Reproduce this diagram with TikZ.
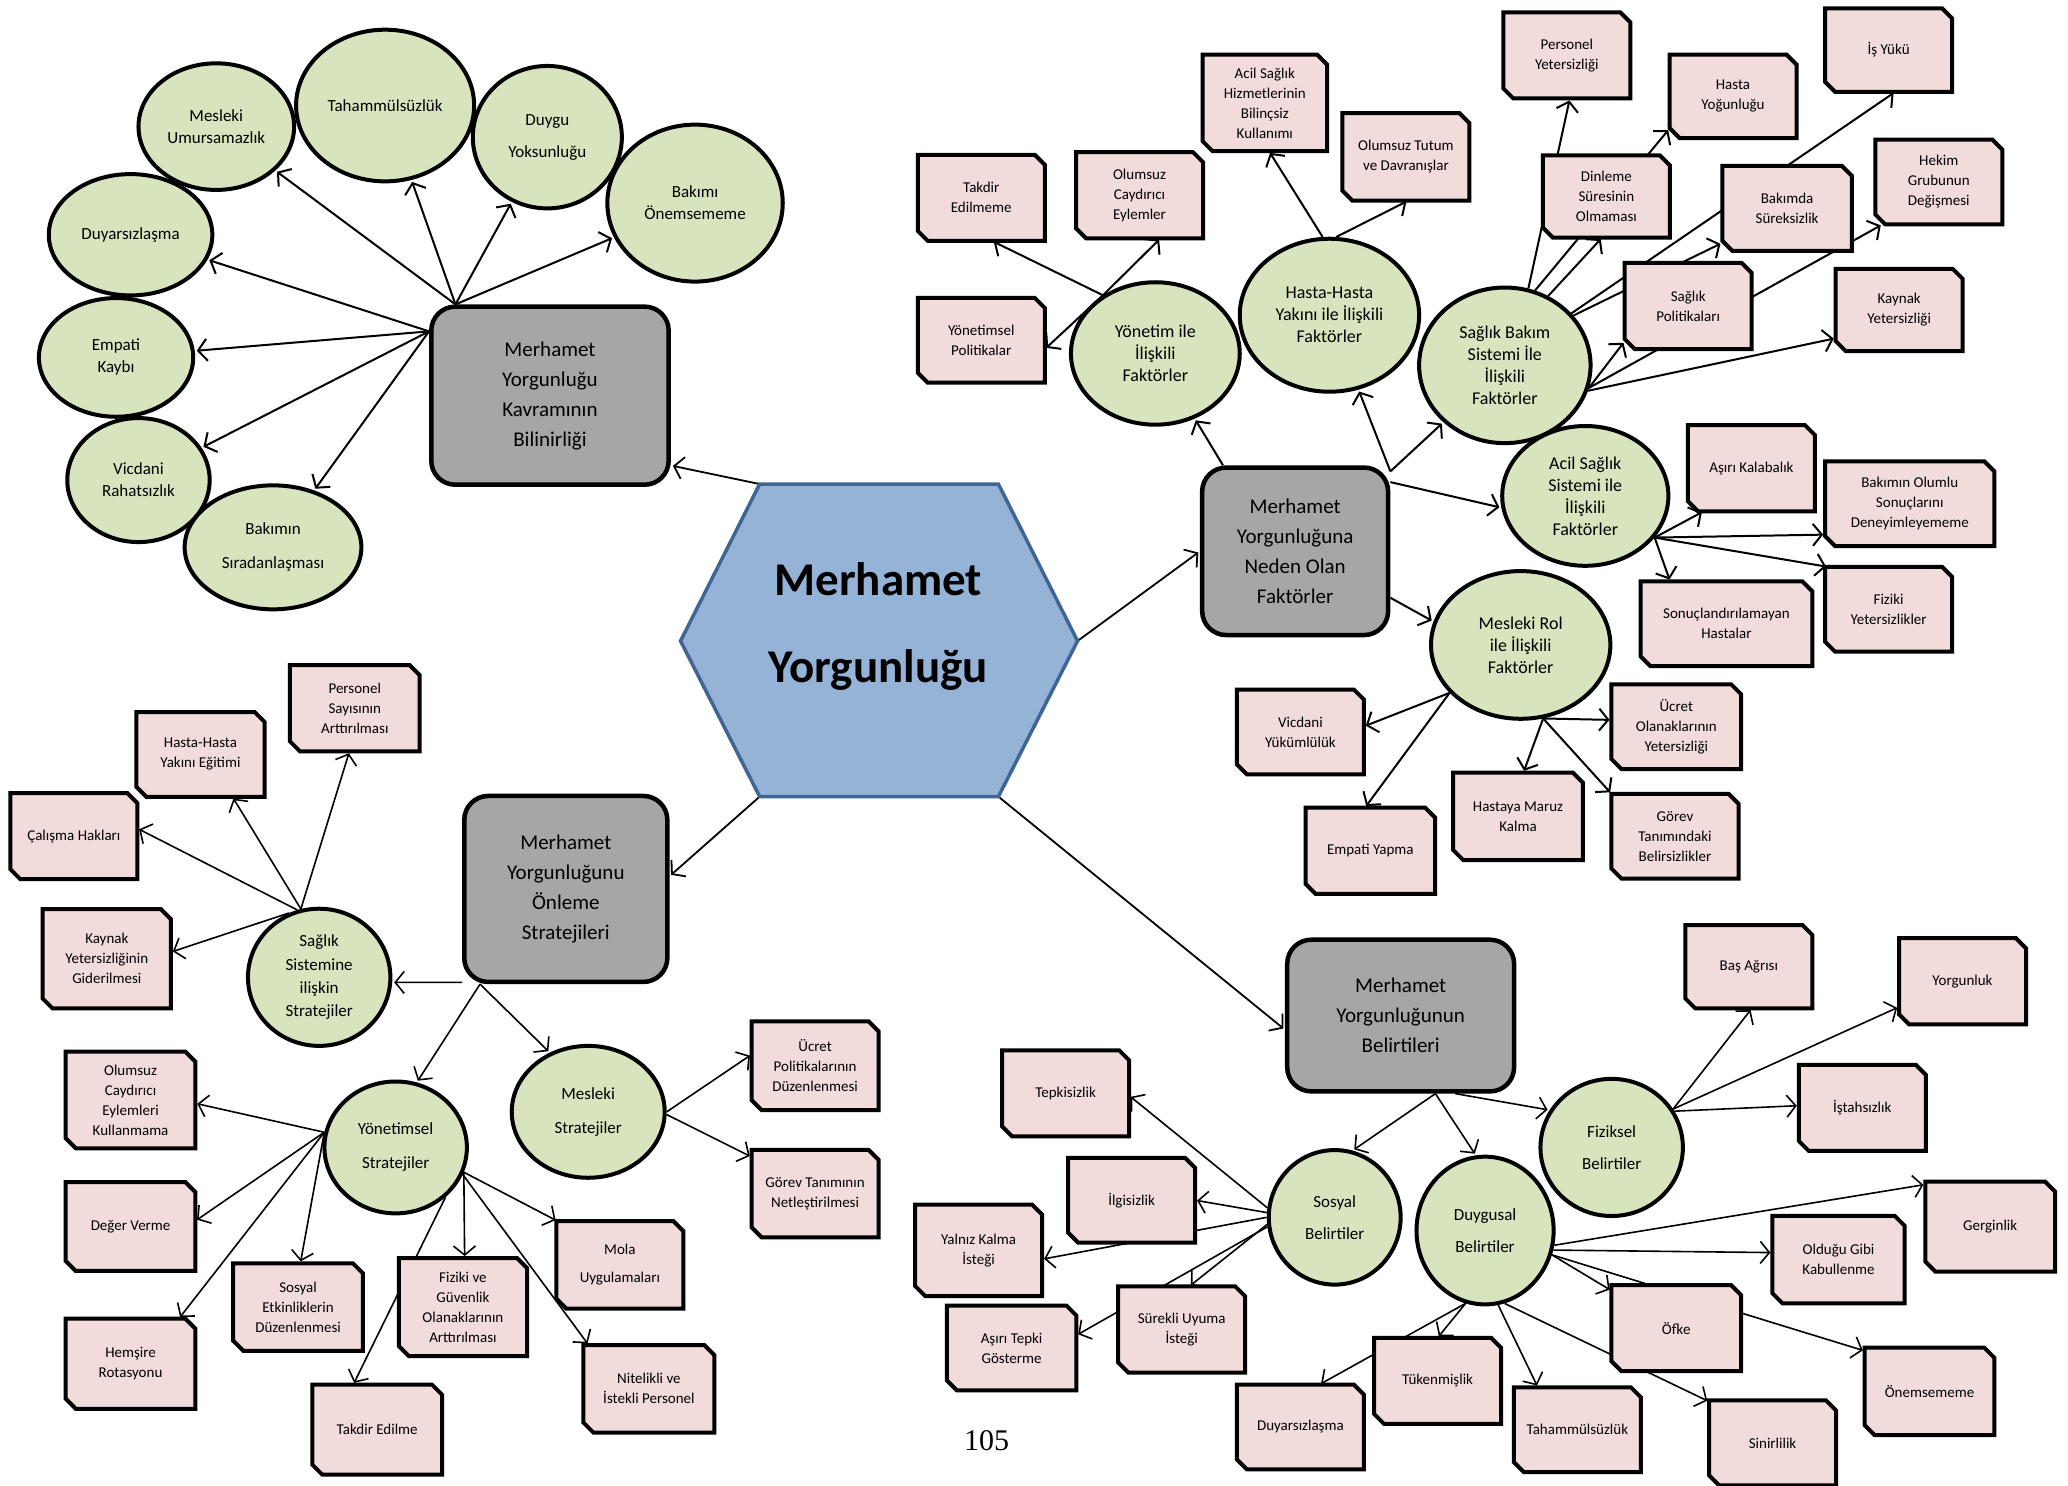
\documentclass[tikz,border=0pt]{standalone}
\usepackage{fontspec}
\setmainfont{Carlito}
\newfontfamily\pagenumfont{Liberation Serif}
\usetikzlibrary{shapes.geometric,arrows.meta}
\definecolor{pinkfill}{HTML}{F2DCDB}
\definecolor{greenfill}{HTML}{D7E4BD}
\definecolor{grayfill}{HTML}{A6A6A6}
\definecolor{hexfill}{HTML}{95B3D7}
\definecolor{hexline}{HTML}{3F6592}
\pgfdeclarelayer{bg}
\pgfdeclarelayer{edges}
\pgfdeclarelayer{boxes}
\pgfsetlayers{bg,edges,boxes,main}
\def\unitpx{1.3189pt}
\def\cutsz{10pt}
% pink box with two cut corners: name, x, y, width, height, text
\newcommand\pinkbox[6]{%
  \node[pbtext, minimum width=#4*\unitpx, minimum height=#5*\unitpx] (#1) at (#2,#3) {#6};
  \begin{pgfonlayer}{boxes}
    \draw[pbframe] (#1.north west) -- ([xshift=-\cutsz]#1.north east)
      -- ([yshift=-\cutsz]#1.north east) -- (#1.south east)
      -- ([xshift=\cutsz]#1.south west) -- ([yshift=\cutsz]#1.south west) -- cycle;
  \end{pgfonlayer}}
% green ellipse: name, x, y, width, height, text
\newcommand\greenell[6]{%
  \node[gell, minimum width=#4*\unitpx, minimum height=#5*\unitpx] (#1) at (#2,#3) {#6};}
% grey rounded box: name, x, y, width, height, text
\newcommand\greybox[6]{%
  \node[gbox, minimum width=#4*\unitpx, minimum height=#5*\unitpx] (#1) at (#2,#3) {#6};}
\begin{document}
\begin{tikzpicture}[x=1.3189pt, y=-1.3189pt,
  pbtext/.style={rectangle, inner sep=0pt, align=center, font=\fontsize{15}{20}\selectfont},
  pbframe/.style={draw=black, line width=4pt, fill=pinkfill, line join=miter},
  gell/.style={ellipse, draw=black, line width=4pt, fill=greenfill, inner sep=0pt, align=center, font=\fontsize{17}{22}\selectfont},
  gellb/.style={gell, font=\fontsize{18}{22}\selectfont},
  gbox/.style={rectangle, rounded corners=24pt, draw=black, line width=4.5pt, fill=grayfill, inner sep=0pt, align=center, font=\fontsize{21}{30}\selectfont},
  arr/.style={line width=2pt, -{Straight Barb[length=9pt,width=22pt]}, shorten >=2pt},
  arrt/.style={arr, line width=1.6pt},
  arrh/.style={arr, line width=1.8pt}]
\useasboundingbox (0,0) rectangle (1568,1126);
\begin{pgfonlayer}{bg}
  \fill[white] (0,0) rectangle (1568,1126);
\end{pgfonlayer}

% central hexagon
\coordinate (hexTL) at (576,367);
\coordinate (hexTR) at (757,367);
\coordinate (hexR) at (817,486);
\coordinate (hexBR) at (757,604);
\coordinate (hexBL) at (576,604);
\coordinate (hexL) at (516,486);
\draw[draw=hexline, fill=hexfill, line width=3.5pt, line join=miter]
  (hexTL) -- (hexTR) -- (hexR) -- (hexBR) -- (hexBL) -- (hexL) -- cycle;
\node[align=center, font=\fontsize{47}{87}\selectfont\bfseries] (hex) at (666,475) {Merhamet\\Yorgunluğu};

% ---------- concept awareness ----------
\greybox{A}{417}{300}{180}{135}{Merhamet\\Yorgunluğu\\Kavramının\\Bilinirliği}
\greenell{mum}{164}{96}{118}{96}{Mesleki\\Umursamazlık}
\greenell{tah}{292}{80}{135}{115}{Tahammülsüzlük}
\greenell{duy}{415}{104}{113}{108}{Duygu\\[10pt]Yoksunluğu}
\greenell{bon}{527}{154}{133}{119}{Bakımı\\Önemsememe}
\greenell{dsz}{99}{178}{124}{92}{Duyarsızlaşma}
\greenell{emp}{88}{271}{117}{90}{Empati\\Kaybı}
\greenell{vic}{105}{364}{108}{94}{Vicdani\\Rahatsızlık}
\greenell{bsr}{207}{415}{134}{94}{Bakımın\\[12pt]Sıradanlaşması}

% ---------- causes ----------
\greybox{B}{982}{418}{141}{127}{Merhamet\\Yorgunluğuna\\Neden Olan\\Faktörler}
\node[gellb, minimum width=128*\unitpx, minimum height=108*\unitpx] (yon) at (876,268) {Yönetim ile\\İlişkili\\Faktörler};
\node[gellb, minimum width=136*\unitpx, minimum height=116*\unitpx] (hh) at (1008,239) {Hasta-Hasta\\Yakını ile İlişkili\\Faktörler};
\node[gellb, minimum width=130*\unitpx, minimum height=118*\unitpx] (sb) at (1141,277) {Sağlık Bakım\\Sistemi İle\\İlişkili\\Faktörler};
\node[gellb, minimum width=126*\unitpx, minimum height=106*\unitpx] (acil) at (1202,376) {Acil Sağlık\\Sistemi ile\\İlişkili\\Faktörler};
\node[gellb, minimum width=136*\unitpx, minimum height=112*\unitpx] (mr) at (1153,489) {Mesleki Rol\\ile İlişkili\\Faktörler};

\pinkbox{takd}{744}{150}{96}{65}{Takdir\\Edilmeme}
\pinkbox{olc}{864}{148}{96}{65}{Olumsuz\\Caydırıcı\\Eylemler}
\pinkbox{yp}{744}{258}{96}{64}{Yönetimsel\\Politikalar}
\pinkbox{ash}{959}{78}{94}{73}{Acil Sağlık\\Hizmetlerinin\\Bilinçsiz\\Kullanımı}
\pinkbox{ot}{1066}{119}{96}{66}{Olumsuz Tutum\\ve Davranışlar}
\pinkbox{pers}{1188}{42}{96}{65}{Personel\\Yetersizliği}
\pinkbox{hy}{1314}{73}{96}{63}{Hasta\\Yoğunluğu}
\pinkbox{iy}{1432}{38}{96}{63}{İş Yükü}
\pinkbox{din}{1218}{149}{96}{62}{Dinleme\\Süresinin\\Olmaması}
\pinkbox{bs}{1355}{158}{98}{64}{Bakımda\\Süreksizlik}
\pinkbox{hek}{1470}{138}{96}{64}{Hekim\\Grubunun\\Değişmesi}
\pinkbox{sp}{1280}{232}{96}{65}{Sağlık\\Politikaları}
\pinkbox{ky}{1440}{235}{96}{62}{Kaynak\\Yetersizliği}
\pinkbox{ak}{1328}{355}{96}{65}{Aşırı Kalabalık}
\pinkbox{bo}{1448}{382}{128}{64}{Bakımın Olumlu\\Sonuçlarını\\Deneyimleyememe}
\pinkbox{sh}{1309}{473}{130}{64}{Sonuçlandırılamayan\\Hastalar}
\pinkbox{fy}{1432}{462}{96}{64}{Fiziki\\Yetersizlikler}
\pinkbox{vy}{986}{555}{96}{64}{Vicdani\\Yükümlülük}
\pinkbox{ey}{1039}{645}{98}{65}{Empati Yapma}
\pinkbox{uo}{1271}{551}{98}{64}{Ücret\\Olanaklarının\\Yetersizliği}
\pinkbox{hm}{1151}{619}{98}{66}{Hastaya Maruz\\Kalma}
\pinkbox{gt}{1270}{634}{96}{64}{Görev\\Tanımındaki\\Belirsizlikler}

% ---------- prevention ----------
\greybox{C}{429}{674}{154}{141}{Merhamet\\Yorgunluğunu\\Önleme\\Stratejileri}
\node[gell, font=\fontsize{17}{23.5}\selectfont, minimum width=108*\unitpx, minimum height=104*\unitpx] (ss) at (242,741) {Sağlık\\Sistemine\\ilişkin\\Stratejiler};
\greenell{ys}{300}{870}{108}{100}{Yönetimsel\\[12pt]Stratejiler}
\greenell{ms}{446}{843}{116}{100}{Mesleki\\[12pt]Stratejiler}

\pinkbox{ps}{269}{537}{98}{65}{Personel\\Sayısının\\Arttırılması}
\pinkbox{he}{152}{572}{97}{64}{Hasta-Hasta\\Yakını Eğitimi}
\pinkbox{ch}{56}{634}{96}{65}{Çalışma Hakları}
\pinkbox{kg}{81}{727}{97}{75}{Kaynak\\Yetersizliğinin\\Giderilmesi}
\pinkbox{ocek}{99}{834}{98}{73}{Olumsuz\\Caydırıcı\\Eylemleri\\Kullanmama}
\pinkbox{dv}{99}{930}{98}{67}{Değer Verme}
\pinkbox{hr}{99}{1034}{98}{68}{Hemşire\\Rotasyonu}
\pinkbox{se}{226}{991}{98}{66}{Sosyal\\Etkinliklerin\\Düzenlenmesi}
\pinkbox{fg}{351}{991}{97}{74}{Fiziki ve\\Güvenlik\\Olanaklarının\\Arttırılması}
\pinkbox{te}{286}{1084}{98}{68}{Takdir Edilme}
\pinkbox{mol}{470}{959}{96}{66}{Mola\\[8pt]Uygulamaları}
\pinkbox{nip}{492}{1053}{99}{66}{Nitelikli ve\\İstekli Personel}
\pinkbox{up}{618}{808}{96}{67}{Ücret\\Politikalarının\\Düzenlenmesi}
\pinkbox{gtn}{618}{905}{96}{66}{Görev Tanımının\\Netleştirilmesi}

% ---------- symptoms ----------
\greybox{D}{1062}{770}{172}{115}{Merhamet\\Yorgunluğunun\\Belirtileri}
\greenell{so}{1012}{923}{100}{102}{Sosyal\\[10pt]Belirtiler}
\greenell{fi}{1222}{870}{108}{104}{Fiziksel\\[10pt]Belirtiler}
\greenell{du}{1126}{933}{104}{112}{Duygusal\\[10pt]Belirtiler}

\pinkbox{ba}{1326}{733}{96}{63}{Baş Ağrısı}
\pinkbox{yo}{1488}{744}{96}{65}{Yorgunluk}
\pinkbox{ist}{1412}{840}{96}{65}{İştahsızlık}
\pinkbox{tp}{808}{829}{96}{65}{Tepkisizlik}
\pinkbox{il}{858}{910}{96}{64}{İlgisizlik}
\pinkbox{yk}{742}{948}{96}{69}{Yalnız Kalma\\İsteği}
\pinkbox{atg}{767}{1022}{98}{64}{Aşırı Tepki\\Gösterme}
\pinkbox{su}{896}{1008}{96}{65}{Sürekli Uyuma\\İsteği}
\pinkbox{ge}{1509}{930}{98}{68}{Gerginlik}
\pinkbox{og}{1394}{955}{100}{66}{Olduğu Gibi\\Kabullenme}
\pinkbox{ofk}{1271}{1007}{98}{65}{Öfke}
\pinkbox{onm}{1463}{1055}{98}{66}{Önemsememe}
\pinkbox{si}{1344}{1094}{96}{64}{Sinirlilik}
\pinkbox{ta}{1196}{1084}{96}{64}{Tahammülsüzlük}
\pinkbox{tk}{1090}{1047}{96}{65}{Tükenmişlik}
\pinkbox{dz}{986}{1082}{96}{64}{Duyarsızlaşma}

\node[font=\pagenumfont\fontsize{30}{30}\selectfont] (pg) at (748,1092) {105};

% ---------- connectors ----------
\begin{pgfonlayer}{edges}
  \draw[arrh] (hexTL) -- (A.-30);
  \draw[arrh] (hexR) -- (B.west);
  \draw[arrh] (hexBL) -- (C.7);
  \draw[arrh] (hexBR) -- (D.187);

  \foreach \t in {mum,tah,duy,bon} \draw[arr] (A.136) -- (\t);
  \foreach \t in {dsz,emp,vic,bsr} \draw[arr] (A.152) -- (\t);

  \draw[arr] (B.130) -- (yon);
  \draw[arr] (B.40) -- (hh);
  \draw[arr] (B.40) -- (sb);
  \draw[arr] (B.36) -- (acil.188);
  \draw[arr] (B.-26) -- (mr.165);

  \draw[arr] (yon.132) -- (takd.-76);
  \draw[arr] (yon.132) -- (olc.-64);
  \draw[arr] (yon.132) -- (yp.-8);

  \draw[arr] (hh.95) -- (ash.-85);
  \draw[arr] (hh.85) -- (ot.-87);

  \draw[arr] (sb.73) -- (pers.-86);
  \draw[arr] (sb.68) -- (hy.207);
  \draw[arr] (sb.58) -- (din.-96);
  \draw[arr] (sb.38) -- (iy.-81);
  \draw[arr] (sb.36) -- (bs.208);
  \draw[arr] (sb.-15) -- (hek.217);
  \draw[arr] (sb.-15) -- (sp.209);
  \draw[arr] (sb.-17) -- (ky.204);

  \draw[arr] (acil.-31) -- (ak.222);
  \draw[arr] (acil.-31) -- (bo.200);
  \draw[arr] (acil.-31) -- (fy.145);
  \draw[arr] (acil.-31) -- (sh.143);

  \draw[arr] (mr.214) -- (vy.5);
  \draw[arr] (mr.214) -- (ey.97);
  \draw[arr] (mr.-73) -- (uo.174);
  \draw[arr] (mr.-73) -- (hm.83);
  \draw[arr] (mr.-73) -- (gt.north west);

  \draw[arrt] (C.222) -- (ss.-4);
  \draw[arrt] (C.228) -- (ys.72);
  \draw[arrt] (C.228) -- (ms.123);

  \draw[arrt] (ss.105) -- (ps.-97);
  \draw[arrt] (ss.105) -- (he.-53);
  \draw[arrt] (ss.108) -- (ch.7);
  \draw[arrt] (ss.115) -- (kg.6);

  \draw[arrt] (ys.168) -- (ocek.-3);
  \draw[arrt] (ys.168) -- (dv.5);
  \draw[arrt] (ys.168) -- (hr.43);
  \draw[arrt] (ys.168) -- (se.87);
  \draw[arrt] (ys.-20) -- (fg.88);
  \draw[arrt] (ys.-45) -- (te.118);
  \draw[arrt] (ys.-20) -- (mol.145);
  \draw[arrt] (ys.-22) -- (nip.144);

  \draw[arrt] (ms.0) -- (up.170);
  \draw[arrt] (ms.-2) -- (gtn.150);

  \draw[arrt] (D.-66) -- (so.75);
  \draw[arrt] (D.-66) -- (du.97);
  \draw[arrt] (D.-55) -- (fi.149);

  \draw[arrt] (fi.32) -- (ba.-86);
  \draw[arrt] (fi.32) -- (yo.202);
  \draw[arrt] (fi.30) -- (ist.178);

  \draw[arrt] (so.172) -- (tp.-2);
  \draw[arrt] (so.176) -- (il.0);
  \draw[arrt] (so.180) -- (yk.-8);
  \draw[arrt] (so.186) -- (su.80);
  \draw[arrt] (so.188) -- (atg.11);

  \draw[arrt] (du.-12) -- (ge.147);
  \draw[arrt] (du.-16) -- (og.174);
  \draw[arrt] (du.-20) -- (ofk.150);
  \draw[arrt] (du.-20) -- (onm.148);
  \draw[arrt] (du.-75) -- (si.147);
  \draw[arrt] (du.-80) -- (ta.133);
  \draw[arrt] (du.-105) -- (tk.90);
  \draw[arrt] (du.-105) -- (dz.66);
\end{pgfonlayer}
\end{tikzpicture}
\end{document}
